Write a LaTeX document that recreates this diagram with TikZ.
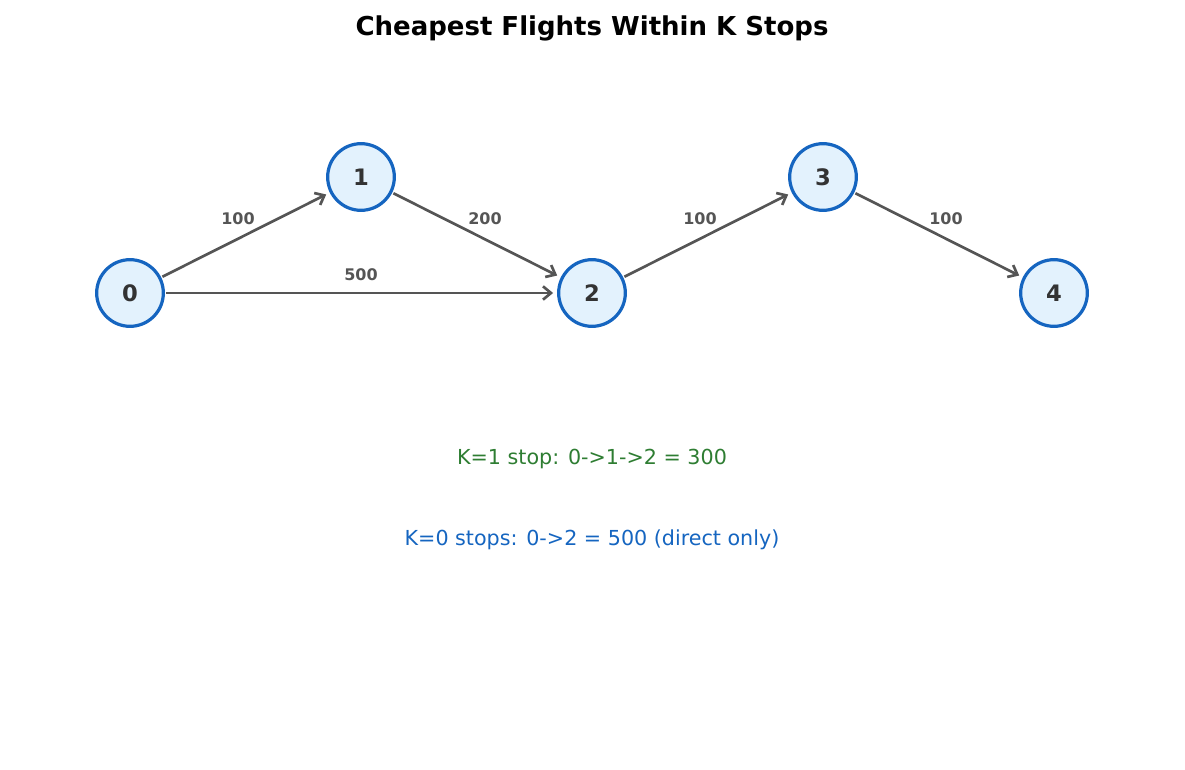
\documentclass[tikz,border=0pt]{standalone}
\usepackage{fontspec}
\setmainfont{DejaVu Sans}
\usetikzlibrary{arrows.meta}
\definecolor{cityblue}{HTML}{1565C0}
\definecolor{cityfill}{HTML}{E3F2FD}
\definecolor{edgegray}{HTML}{555555}
\definecolor{txtdark}{HTML}{333333}
\definecolor{okgreen}{HTML}{2E7D32}
\tikzset{
  city/.style={draw=cityblue, fill=cityfill, circle, line width=2.4pt,
    minimum size=50pt, inner sep=0pt, text=txtdark, font=\fontsize{17}{17}\selectfont\bfseries},
  flight/.style={draw=edgegray, line width=2pt, -{Straight Barb[length=6pt,width=10pt,line width=2pt]}, shorten >=3pt, shorten <=1pt},
  elabel/.style={text=edgegray, font=\fontsize{12}{13}\selectfont\bfseries},
}
\begin{document}
\begin{tikzpicture}[x=0.75pt, y=-0.75pt]
\useasboundingbox (0,0) rectangle (1185,770);
\node[font=\fontsize{19.5}{21}\selectfont\bfseries] (title) at (592,28) {Cheapest Flights Within K Stops};
\node[city] (n0) at (130,293) {0};
\node[city] (n1) at (361,177) {1};
\node[city] (n2) at (592,293) {2};
\node[city] (n3) at (823,177) {3};
\node[city] (n4) at (1054,293) {4};
\draw[flight] (n0) -- (n1);
\draw[flight] (n1) -- (n2);
\draw[flight] (n0) -- (n2);
\draw[flight] (n2) -- (n3);
\draw[flight] (n3) -- (n4);
\node[elabel] (w01) at (238,219) {100};
\node[elabel] (w12) at (485,219) {200};
\node[elabel] (w02) at (361,275) {500};
\node[elabel] (w23) at (700,219) {100};
\node[elabel] (w34) at (946,219) {100};
\node[text=okgreen, font=\fontsize{15.5}{16}\selectfont] (k1) at (592,459) {K=1 stop: 0->1->2 = 300};
\node[text=cityblue, font=\fontsize{15.5}{16}\selectfont] (k0) at (592,540) {K=0 stops: 0->2 = 500 (direct only)};
\end{tikzpicture}
\end{document}
